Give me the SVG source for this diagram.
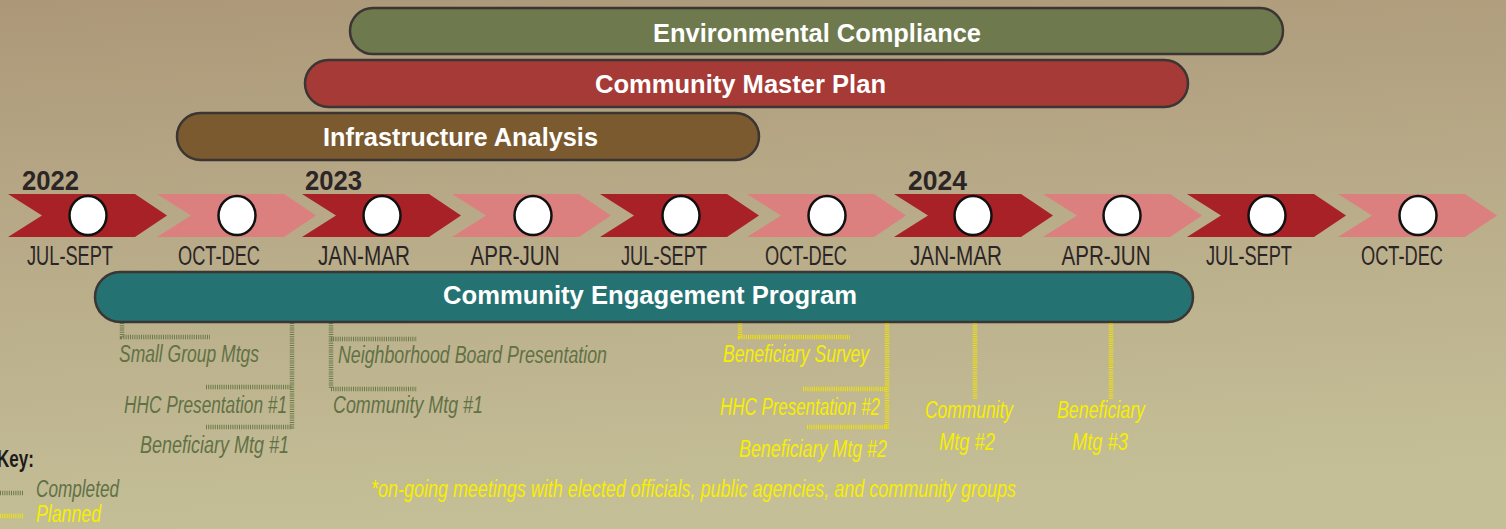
<svg xmlns="http://www.w3.org/2000/svg" width="1506" height="529" viewBox="0 0 1506 529">
<defs>
<linearGradient id="bg" x1="0" y1="0" x2="0.15" y2="1">
<stop offset="0" stop-color="#ac9878"/>
<stop offset="0.45" stop-color="#b8aa88"/>
<stop offset="1" stop-color="#c4bf97"/>
</linearGradient>
<polygon id="chev" points="0,194 127,194 159,215.5 127,237 0,237 34,215.5"/>
</defs>
<style>
.bar{stroke:#3b3633;stroke-width:2.5}
.bl{font-family:"Liberation Sans",Arial,sans-serif;font-weight:bold;font-size:25px;fill:#ffffff;text-anchor:middle}
.dk{fill:#a82127}
.pk{fill:#db807f}
.dot{fill:#ffffff;stroke:#111111;stroke-width:2.5}
.mo{font-family:"Liberation Sans",Arial,sans-serif;font-size:27px;fill:#2b2525;text-anchor:middle}
.yr{font-family:"Liberation Sans",Arial,sans-serif;font-weight:bold;font-size:27px;fill:#2b2525}
.it{font-family:"Liberation Sans",Arial,sans-serif;font-style:italic;font-size:23px}
.g{fill:#617145}
.y{fill:#f7ee00}
.cg{fill:none;stroke:#6b7a4a;stroke-width:4.5;stroke-dasharray:1 1.2}
.cy{fill:none;stroke:#f2e400;stroke-width:4.5;stroke-dasharray:1 1.2}
</style>
<rect x="0" y="0" width="1506" height="529" fill="url(#bg)"/>

<g id="bar-environmental">
<rect class="bar" x="350" y="8" width="933" height="46" rx="23" fill="#6e7a4d"/>
<text class="bl" x="817" y="42" textLength="328" lengthAdjust="spacingAndGlyphs">Environmental Compliance</text>
</g>
<g id="bar-master-plan">
<rect class="bar" x="305" y="60" width="883" height="47" rx="23.5" fill="#a63a36"/>
<text class="bl" x="740.5" y="93" textLength="291" lengthAdjust="spacingAndGlyphs">Community Master Plan</text>
</g>
<g id="bar-infrastructure">
<rect class="bar" x="177" y="113" width="582" height="47" rx="23.5" fill="#7b5a2f"/>
<text class="bl" x="460.5" y="146" textLength="275" lengthAdjust="spacingAndGlyphs">Infrastructure Analysis</text>
</g>

<g id="years">
<text class="yr" x="22" y="190" textLength="57" lengthAdjust="spacingAndGlyphs">2022</text>
<text class="yr" x="305" y="190" textLength="57" lengthAdjust="spacingAndGlyphs">2023</text>
<text class="yr" x="908" y="190" textLength="59" lengthAdjust="spacingAndGlyphs">2024</text>
</g>

<g id="q1"><use href="#chev" x="8" class="dk"/><ellipse class="dot" cx="88" cy="215.5" rx="18.5" ry="19.5"/><text class="mo" x="70" y="265" textLength="86" lengthAdjust="spacingAndGlyphs">JUL-SEPT</text></g>
<g id="q2"><use href="#chev" x="157" class="pk"/><ellipse class="dot" cx="237" cy="215.5" rx="18.5" ry="19.5"/><text class="mo" x="219" y="265" textLength="82" lengthAdjust="spacingAndGlyphs">OCT-DEC</text></g>
<g id="q3"><use href="#chev" x="302" class="dk"/><ellipse class="dot" cx="382" cy="215.5" rx="18.5" ry="19.5"/><text class="mo" x="364" y="265" textLength="92" lengthAdjust="spacingAndGlyphs">JAN-MAR</text></g>
<g id="q4"><use href="#chev" x="452" class="pk"/><ellipse class="dot" cx="533" cy="215.5" rx="18.5" ry="19.5"/><text class="mo" x="515" y="265" textLength="89" lengthAdjust="spacingAndGlyphs">APR-JUN</text></g>
<g id="q5"><use href="#chev" x="600" class="dk"/><ellipse class="dot" cx="681" cy="215.5" rx="18.5" ry="19.5"/><text class="mo" x="664" y="265" textLength="86" lengthAdjust="spacingAndGlyphs">JUL-SEPT</text></g>
<g id="q6"><use href="#chev" x="747" class="pk"/><ellipse class="dot" cx="827" cy="215.5" rx="18.5" ry="19.5"/><text class="mo" x="806" y="265" textLength="82" lengthAdjust="spacingAndGlyphs">OCT-DEC</text></g>
<g id="q7"><use href="#chev" x="894" class="dk"/><ellipse class="dot" cx="973" cy="215.5" rx="18.5" ry="19.5"/><text class="mo" x="956" y="265" textLength="92" lengthAdjust="spacingAndGlyphs">JAN-MAR</text></g>
<g id="q8"><use href="#chev" x="1043" class="pk"/><ellipse class="dot" cx="1122" cy="215.5" rx="18.5" ry="19.5"/><text class="mo" x="1106" y="265" textLength="89" lengthAdjust="spacingAndGlyphs">APR-JUN</text></g>
<g id="q9"><use href="#chev" x="1187" class="dk"/><ellipse class="dot" cx="1267" cy="215.5" rx="18.5" ry="19.5"/><text class="mo" x="1249" y="265" textLength="86" lengthAdjust="spacingAndGlyphs">JUL-SEPT</text></g>
<g id="q10"><use href="#chev" x="1338" class="pk"/><ellipse class="dot" cx="1418" cy="215.5" rx="18.5" ry="19.5"/><text class="mo" x="1402" y="265" textLength="82" lengthAdjust="spacingAndGlyphs">OCT-DEC</text></g>

<g id="connectors">
<path class="cg" d="M122 323 V337 H210"/>
<path class="cg" d="M292 323 V429 M206 387 H292 M206 427 H292"/>
<path class="cg" d="M331 323 V389 M331 339 H417 M331 389 H417"/>
<path class="cy" d="M740 323 V337 H850"/>
<path class="cy" d="M887 323 V429 M803 389 H887 M807 427 H887"/>
<path class="cy" d="M975 323 V399"/>
<path class="cy" d="M1111 323 V399"/>
<path class="cg" d="M0 493 H23"/>
<path class="cy" d="M0 516 H23"/>
</g>

<g id="bar-engagement">
<rect class="bar" x="95" y="272" width="1098" height="50" rx="25" fill="#247272"/>
<text class="bl" x="650" y="304" textLength="414" lengthAdjust="spacingAndGlyphs">Community Engagement Program</text>
</g>

<g id="completed-events">
<text class="it g" x="119" y="362" textLength="140" lengthAdjust="spacingAndGlyphs">Small Group Mtgs</text>
<text class="it g" x="124" y="413" textLength="163" lengthAdjust="spacingAndGlyphs">HHC Presentation #1</text>
<text class="it g" x="140" y="453" textLength="149" lengthAdjust="spacingAndGlyphs">Beneficiary Mtg #1</text>
<text class="it g" x="338" y="363" textLength="269" lengthAdjust="spacingAndGlyphs">Neighborhood Board Presentation</text>
<text class="it g" x="333" y="413" textLength="150" lengthAdjust="spacingAndGlyphs">Community Mtg #1</text>
</g>

<g id="planned-events">
<text class="it y" x="723" y="362" textLength="146" lengthAdjust="spacingAndGlyphs">Beneficiary Survey</text>
<text class="it y" x="720" y="415" textLength="160" lengthAdjust="spacingAndGlyphs">HHC Presentation #2</text>
<text class="it y" x="739" y="457" textLength="148" lengthAdjust="spacingAndGlyphs">Beneficiary Mtg #2</text>
<text class="it y" x="969" y="418" text-anchor="middle" textLength="88" lengthAdjust="spacingAndGlyphs">Community</text>
<text class="it y" x="967" y="450" text-anchor="middle" textLength="56" lengthAdjust="spacingAndGlyphs">Mtg #2</text>
<text class="it y" x="1101" y="418" text-anchor="middle" textLength="88" lengthAdjust="spacingAndGlyphs">Beneficiary</text>
<text class="it y" x="1100" y="450" text-anchor="middle" textLength="56" lengthAdjust="spacingAndGlyphs">Mtg #3</text>
</g>

<g id="footnote">
<text class="it y" x="371" y="497" textLength="645" lengthAdjust="spacingAndGlyphs">*on-going meetings with elected officials, public agencies, and community groups</text>
</g>

<g id="key">
<text x="-3" y="467" font-family="Liberation Sans, Arial, sans-serif" font-weight="bold" font-size="23" fill="#1e1a1a" textLength="37" lengthAdjust="spacingAndGlyphs">Key:</text>
<text class="it g" x="36" y="497" textLength="83" lengthAdjust="spacingAndGlyphs">Completed</text>
<text class="it y" x="36" y="522" textLength="65" lengthAdjust="spacingAndGlyphs">Planned</text>
</g>
</svg>
